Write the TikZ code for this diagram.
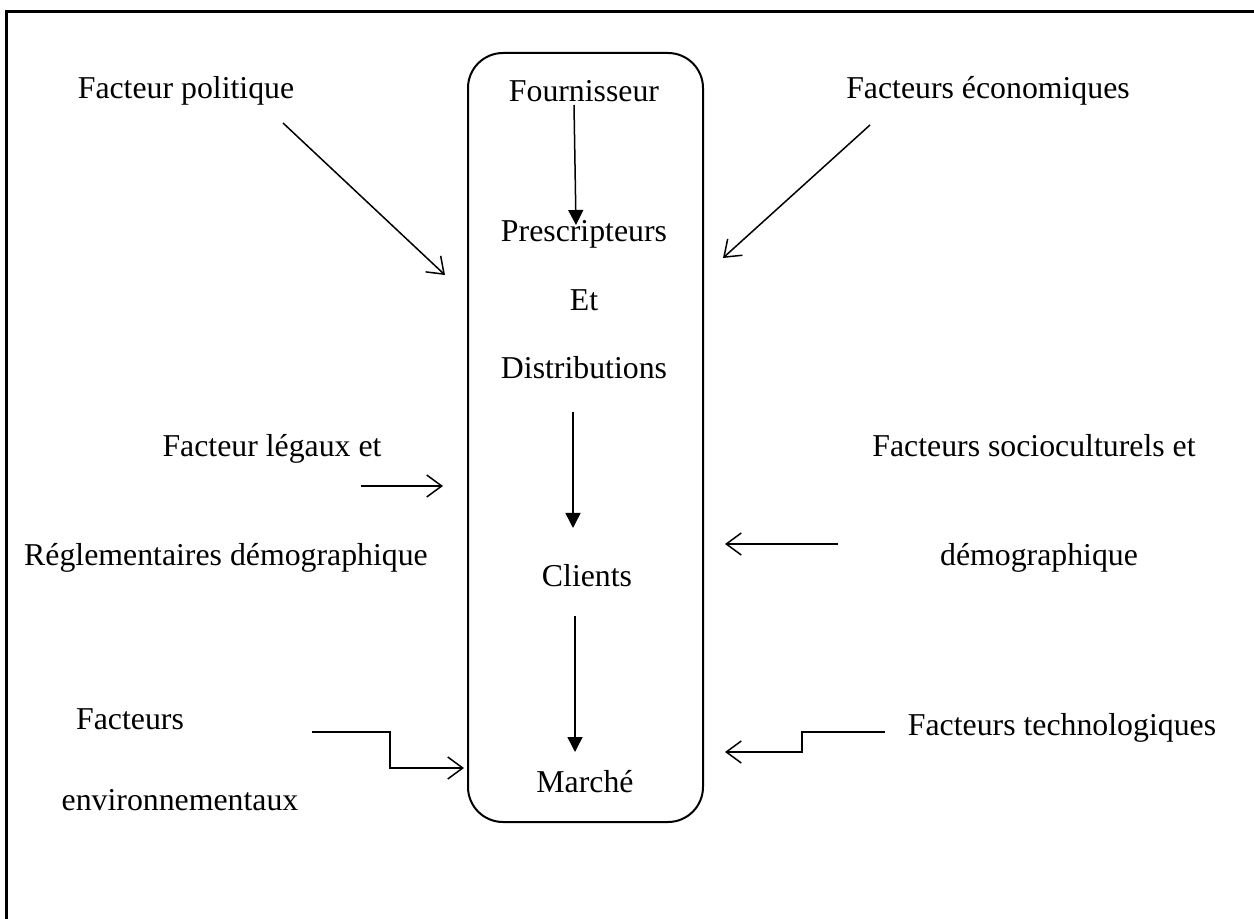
\documentclass[tikz,border=0pt]{standalone}
\usepackage{fontspec}
\setmainfont{Liberation Serif}
\usetikzlibrary{arrows.meta}
\begin{document}
\begin{tikzpicture}[x=0.5pt,y=-0.5pt,
  lbl/.style={anchor=base,inner sep=0pt,font=\fontsize{15.9}{19}\selectfont},
  ext/.style={line width=0.75pt,-{Straight Barb[length=7.5pt,width=11pt]}},
  inr/.style={line width=0.75pt,-{Triangle[length=7.5pt,width=7.5pt]}},
  frame/.style={line width=1.5pt},
  mainbox/.style={draw,line width=1pt,rounded corners=17.5pt,inner sep=0pt,minimum width=117.5pt,minimum height=384.5pt}]
\useasboundingbox (0,0) rectangle (1254,919);
\draw[frame] (6.5,919) -- (6.5,11.5) -- (1254,11.5);
\node[mainbox] (box) at (585.5,437.5) {};
% centre texts
\node[lbl] (four) at (584,102) {Fournisseur};
\node[lbl] (presc) at (584,242) {Prescripteurs};
\node[lbl] (et) at (584,311) {Et};
\node[lbl] (distr) at (584,379) {Distributions};
\node[lbl] (cli) at (587,587) {Clients};
\node[lbl] (mar) at (585,792) {Marché};
% side texts
\node[lbl] (pol) at (186,99) {Facteur politique};
\node[lbl] (eco) at (988,99) {Facteurs économiques};
\node[lbl] (leg1) at (272,457) {Facteur légaux et};
\node[lbl] (leg2) at (226,566) {Réglementaires démographique};
\node[lbl] (soc1) at (1034,457) {Facteurs socioculturels et};
\node[lbl] (soc2) at (1039,566) {démographique};
\node[lbl] (env1) at (130,729) {Facteurs};
\node[lbl] (env2) at (180,810) {environnementaux};
\node[lbl] (tec) at (1062,735) {Facteurs technologiques};
% internal arrows
\coordinate (i1s) at (574,105); \coordinate (i1t) at (576,225);
\coordinate (i2s) at (573,412); \coordinate (i2t) at (573,528);
\coordinate (i3s) at (575,616); \coordinate (i3t) at (575,752);
\draw[inr] (i1s) -- (i1t);
\draw[inr] (i2s) -- (i2t);
\draw[inr] (i3s) -- (i3t);
% external arrows
\coordinate (p1) at (283,123); \coordinate (p2) at (445,275);
\coordinate (e1) at (870,125); \coordinate (e2) at (723,258);
\coordinate (l1) at (361,486); \coordinate (l2) at (443,486);
\coordinate (s1) at (838,544); \coordinate (s2) at (725,544);
\coordinate (v1) at (312,732); \coordinate (v2) at (464,768);
\coordinate (t1) at (885,732); \coordinate (t2) at (725,752);
\draw[ext] (p1) -- (p2);
\draw[ext] (e1) -- (e2);
\draw[ext] (l1) -- (l2);
\draw[ext] (s1) -- (s2);
\draw[ext] (v1) -- (390,732) |- (v2);
\draw[ext] (t1) -- (802,732) |- (t2);
\end{tikzpicture}
\end{document}
